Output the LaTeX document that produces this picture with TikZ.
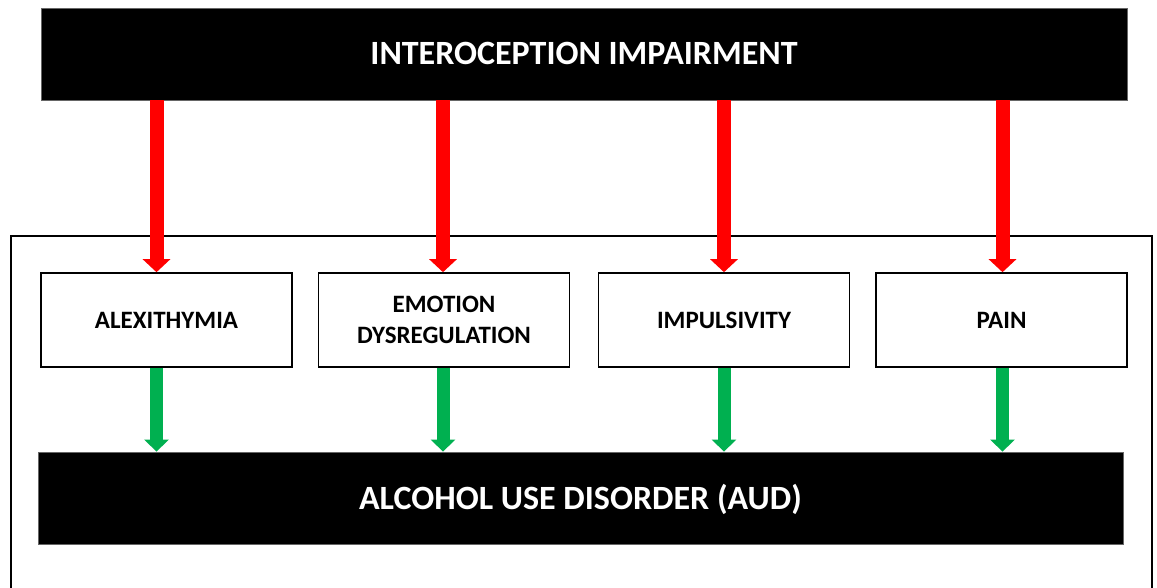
\documentclass[tikz,border=0pt]{standalone}
\usepackage{fontspec}
\setmainfont{Carlito}
\usetikzlibrary{arrows.meta,positioning,calc}
\definecolor{ArrowRed}{HTML}{FF0000}
\definecolor{ArrowGreen}{HTML}{00B050}

\begin{document}
\begin{tikzpicture}[
  x=1pt,y=-1pt,
  bar/.style={fill=black,draw=black!60,line width=0.8pt,minimum width=1086pt,minimum height=92pt,inner sep=0pt,text=white,font=\fontsize{34}{40}\selectfont\bfseries},
  factor/.style={draw=black,fill=white,line width=1.6pt,minimum width=251pt,minimum height=94pt,inner sep=0pt,align=center,font=\fontsize{25}{31}\selectfont\bfseries},
  redarrow/.style={-{Triangle[length=13pt,width=27pt]},line width=14pt,draw=ArrowRed},
  greenarrow/.style={-{Triangle[length=12pt,width=24pt]},line width=13pt,draw=ArrowGreen},
  frame/.style={draw=black,line width=1.4pt}
]
\useasboundingbox[fill=white] (0,0) rectangle (1157,587);
\draw[frame] (11,600) -- (11,236) -- (1152,236) -- (1152,600);
\node[bar,text depth=2pt] (top) at (584,54) {INTEROCEPTION IMPAIRMENT};
\node[factor] (alex) at (166.5,320) {ALEXITHYMIA};
\node[factor] (emo) at (444,320) {EMOTION\\DYSREGULATION};
\node[factor] (imp) at (724,320) {IMPULSIVITY};
\node[factor] (pain) at (1001.5,320) {PAIN};
\node[bar,minimum width=1085pt,text depth=2pt] (aud) at (580.5,498) {ALCOHOL USE DISORDER (AUD)};
\foreach \n/\dx in {alex/-10,emo/-1,imp/0,pain/1}{
  \draw[redarrow] ($(\n.north |- top.south)+(\dx,0)$) -- ($(\n.north)+(\dx,0)$);
  \draw[greenarrow] ($(\n.south)+(\dx,0)$) -- ($(\n.south |- aud.north)+(\dx,0)$);
}
\end{tikzpicture}
\end{document}
